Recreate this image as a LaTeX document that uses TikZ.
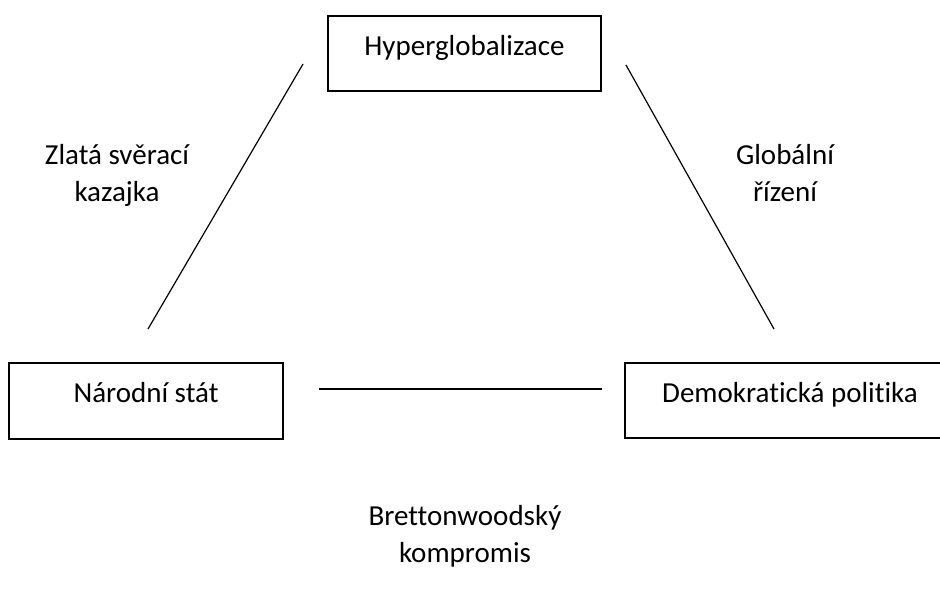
\documentclass[tikz,border=0pt]{standalone}
\usepackage{fontspec}
\setmainfont{Carlito}[Ligatures=NoCommon]
\begin{document}
\begin{tikzpicture}[x=1pt,y=-1pt,
  every node/.style={font=\fontsize{29}{35}\selectfont, inner sep=0pt},
  conceptbox/.style={draw, line width=1.5pt, align=center},
  link/.style={line width=1.2pt},
  caption/.style={anchor=base, align=center}]
\useasboundingbox (0,0) rectangle (940,589);
\clip (0,0) rectangle (940,589);

% the three corner boxes (text sits high in each box)
\node[conceptbox, minimum width=273pt, text height=39pt, text depth=36pt, anchor=base] (hyp) at (464.5,55) {Hyperglobalizace};
\node[conceptbox, minimum width=274pt, text height=39pt, text depth=37pt, anchor=base] (nat) at (146,402) {Národní stát};
\node[conceptbox, minimum width=330pt, text height=39pt, text depth=36pt, anchor=base] (dem) at (790,402) {Demokratická politika};

% end points of the triangle sides
\coordinate (hypL) at (303,64);
\coordinate (natT) at (148,329);
\coordinate (hypR) at (626,65);
\coordinate (demT) at (774,329);
\coordinate (natR) at (319,389);
\coordinate (demL) at (602,389);

\draw[link] (hypL) -- (natT);
\draw[link] (hypR) -- (demT);
\draw[link] (natR) -- (demL);

% side captions (anchored at the baseline of their last line)
\node[caption] (gold) at (117,201) {Zlatá svěrací\\[2pt]kazajka};
\node[caption] (gov) at (785,201) {Globální\\[2pt]řízení};
\node[caption] (bw) at (465,562) {Brettonwoodský\\[2pt]kompromis};
\end{tikzpicture}
\end{document}
